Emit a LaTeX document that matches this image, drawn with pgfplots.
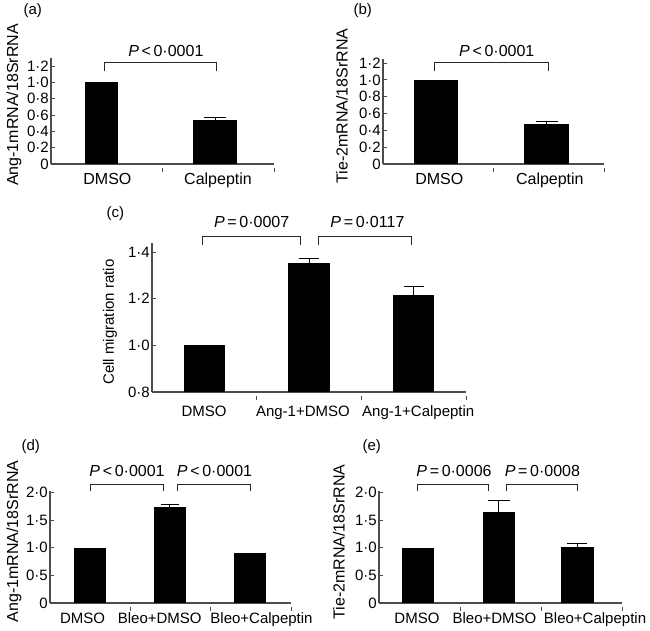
\documentclass[border=0pt]{standalone}
\usepackage{fontspec}
\setmainfont{Liberation Sans}
\usepackage{pgfplots}
\pgfplotsset{compat=1.18}
\newcommand\fs[1]{\fontsize{#1}{#1}\selectfont}
\pgfplotsset{
  panel/.style={
    scale only axis, anchor=south west, clip mode=individual,
    axis x line*=bottom, axis y line*=left,
    axis line style={-, draw=black!70, line width=1.1pt},
    tick align=inside, major tick length=4pt,
    every tick/.style={draw=black!70, line width=1pt},
    xtick style={yshift=-4pt},
    xticklabels={,,,},
    yticklabel style={font=\fs{15}, inner sep=2pt},
    ybar,
  },
  mybar/.style={fill=black, draw=none, bar shift=0pt, bar width=#1},
  err/.style={error bars/.cd, y dir=plus, y explicit,
    error bar style={black, line width=1pt},
    error mark options={black, line width=1pt, mark size=#1, rotate=90}},
  err/.default=10pt,
}
\tikzset{brk/.style={black!85, line width=0.9pt}}
\begin{document}
\begin{tikzpicture}
\path[use as bounding box] (0,0) rectangle (650pt,631pt);

% ---------------- (a)
\begin{axis}[panel, at={(51pt,467pt)}, width=223pt, height=106pt,
  xmin=-0.5, xmax=1.5, ymin=0, ymax=1.3,
  xtick={0.5,1.5},
  ytick={0,0.2,0.4,0.6,0.8,1.0,1.2},
  yticklabels={0,0·2,0·4,0·6,0·8,1·0,1·2}]
\addplot[mybar=33pt] coordinates {(-0.047,1.0)};
\addplot[mybar=44pt, err=11pt] coordinates {(0.971,0.54) +- (0,0.025)};
\draw[brk] (axis cs:-0.025,1.145) |- (axis cs:0.98,1.25) -- (axis cs:0.98,1.145);
\node[anchor=base, font=\fs{16}] at (axis cs:0.53,1.313) {\textit{P}\,<\,0·0001};
\node[anchor=base, font=\fs{16}, yshift=-21pt] at (axis cs:0.006,0) {DMSO};
\node[anchor=base, font=\fs{16}, yshift=-21pt] at (axis cs:0.998,0) {Calpeptin};
\end{axis}
\node[rotate=90, font=\fs{16}] at (14pt,526pt) {Ang-1mRNA/18SrRNA};
\node[anchor=base west, font=\fs{15}] at (20pt,616.5pt) {(a)};

% ---------------- (b)
\begin{axis}[panel, at={(383pt,467pt)}, width=221pt, height=105pt,
  xmin=-0.5, xmax=1.5, ymin=0, ymax=1.25,
  xtick={0.5,1.5},
  ytick={0,0.2,0.4,0.6,0.8,1.0,1.2},
  yticklabels={0,0·2,0·4,0·6,0·8,1·0,1·2}]
\addplot[mybar=44pt] coordinates {(-0.02,1.0)};
\addplot[mybar=45pt, err=11pt] coordinates {(0.98,0.476) +- (0,0.025)};
\draw[brk] (axis cs:-0.03,1.107) |- (axis cs:0.994,1.214) -- (axis cs:0.994,1.107);
\node[anchor=base, font=\fs{16}] at (axis cs:0.53,1.274) {\textit{P}\,<\,0·0001};
\node[anchor=base, font=\fs{16}, yshift=-21pt] at (axis cs:0.01,0) {DMSO};
\node[anchor=base, font=\fs{16}, yshift=-21pt] at (axis cs:1.01,0) {Calpeptin};
\end{axis}
\node[rotate=90, font=\fs{16}] at (342pt,525pt) {Tie-2mRNA/18SrRNA};
\node[anchor=base west, font=\fs{15}] at (350pt,616.5pt) {(b)};

% ---------------- (c)
\begin{axis}[panel, at={(152pt,239pt)}, width=314pt, height=149pt,
  xmin=-0.5, xmax=2.5, ymin=0.8, ymax=1.439,
  xtick={0.5,1.5,2.5},
  ytick={0.8,1.0,1.2,1.4},
  yticklabels={0·8,1·0,1·2,1·4}]
\addplot[mybar=41.5pt] coordinates {(0,1.0)};
\addplot[mybar=41.5pt, err] coordinates {(1,1.353) +- (0,0.021)};
\addplot[mybar=41.5pt, err] coordinates {(2,1.216) +- (0,0.038)};
\draw[brk] (axis cs:-0.022,1.43) |- (axis cs:0.914,1.469) -- (axis cs:0.914,1.43);
\draw[brk] (axis cs:1.095,1.43) |- (axis cs:1.974,1.469) -- (axis cs:1.974,1.43);
\node[anchor=base, font=\fs{16}] at (axis cs:0.452,1.507) {\textit{P}\,=\,0·0007};
\node[anchor=base, font=\fs{16}] at (axis cs:1.558,1.507) {\textit{P}\,=\,0·0117};
\node[anchor=base, font=\fs{15}, yshift=-25pt] at (axis cs:-0.003,0.8) {DMSO};
\node[anchor=base, font=\fs{15}, yshift=-25pt] at (axis cs:0.942,0.8) {Ang-1+DMSO};
\node[anchor=base, font=\fs{15}, yshift=-25pt] at (axis cs:2.044,0.8) {Ang-1+Calpeptin};
\end{axis}
\node[rotate=90, font=\fs{15}] at (110pt,309pt) {Cell migration ratio};
\node[anchor=base west, font=\fs{15}] at (103pt,413pt) {(c)};

% ---------------- (d)
\begin{axis}[panel, at={(50pt,28pt)}, width=241pt, height=112pt,
  xmin=-0.5, xmax=2.5, ymin=0, ymax=2.03,
  xtick={0.5,1.5,2.5},
  ytick={0,0.5,1.0,1.5,2.0},
  yticklabels={0,0·5,1·0,1·5,2·0}]
\addplot[mybar=32pt] coordinates {(-0.003,1.0)};
\addplot[mybar=32pt, err=9pt] coordinates {(0.99,1.738) +- (0,0.05)};
\addplot[mybar=32pt] coordinates {(1.985,0.905)};
\draw[brk] (axis cs:-0.002,2.027) |- (axis cs:0.907,2.154) -- (axis cs:0.907,2.027);
\draw[brk] (axis cs:1.081,2.027) |- (axis cs:1.99,2.154) -- (axis cs:1.99,2.027);
\node[anchor=base, font=\fs{16}] at (axis cs:0.459,2.29) {\textit{P}\,<\,0·0001};
\node[anchor=base, font=\fs{16}] at (axis cs:1.548,2.29) {\textit{P}\,<\,0·0001};
\node[anchor=base, font=\fs{15}, yshift=-20pt] at (axis cs:-0.095,0) {DMSO};
\node[anchor=base, font=\fs{15}, yshift=-20pt] at (axis cs:0.866,0) {Bleo+DMSO};
\node[anchor=base, font=\fs{15}, yshift=-20pt] at (axis cs:2.133,0) {Bleo+Calpeptin};
\end{axis}
\node[rotate=90, font=\fs{16}] at (14pt,89.5pt) {Ang-1mRNA/18SrRNA};
\node[anchor=base west, font=\fs{15}] at (18pt,180pt) {(d)};

% ---------------- (e)
\begin{axis}[panel, at={(379pt,28pt)}, width=243pt, height=112pt,
  xmin=-0.5, xmax=2.5, ymin=0, ymax=2.03,
  xtick={0.5,1.5,2.5},
  ytick={0,0.5,1.0,1.5,2.0},
  yticklabels={0,0·5,1·0,1·5,2·0}]
\addplot[mybar=32pt] coordinates {(-0.02,0.99)};
\addplot[mybar=32pt, err=11pt] coordinates {(0.98,1.649) +- (0,0.217)};
\addplot[mybar=33pt, err] coordinates {(1.95,1.014) +- (0,0.07)};
\draw[brk] (axis cs:-0.031,2.027) |- (axis cs:0.846,2.154) -- (axis cs:0.846,2.027);
\draw[brk] (axis cs:1.068,2.027) |- (axis cs:1.944,2.154) -- (axis cs:1.944,2.027);
\node[anchor=base, font=\fs{16}] at (axis cs:0.426,2.29) {\textit{P}\,=\,0·0006};
\node[anchor=base, font=\fs{16}] at (axis cs:1.518,2.29) {\textit{P}\,=\,0·0008};
\node[anchor=base, font=\fs{15}, yshift=-20pt] at (axis cs:-0.031,0) {DMSO};
\node[anchor=base, font=\fs{15}, yshift=-20pt] at (axis cs:0.926,0) {Bleo+DMSO};
\node[anchor=base, font=\fs{15}, yshift=-20pt] at (axis cs:2.167,0) {Bleo+Calpeptin};
\end{axis}
\node[rotate=90, font=\fs{16}] at (339pt,89pt) {Tie-2mRNA/18SrRNA};
\node[anchor=base west, font=\fs{15}] at (359pt,180pt) {(e)};
\end{tikzpicture}
\end{document}
